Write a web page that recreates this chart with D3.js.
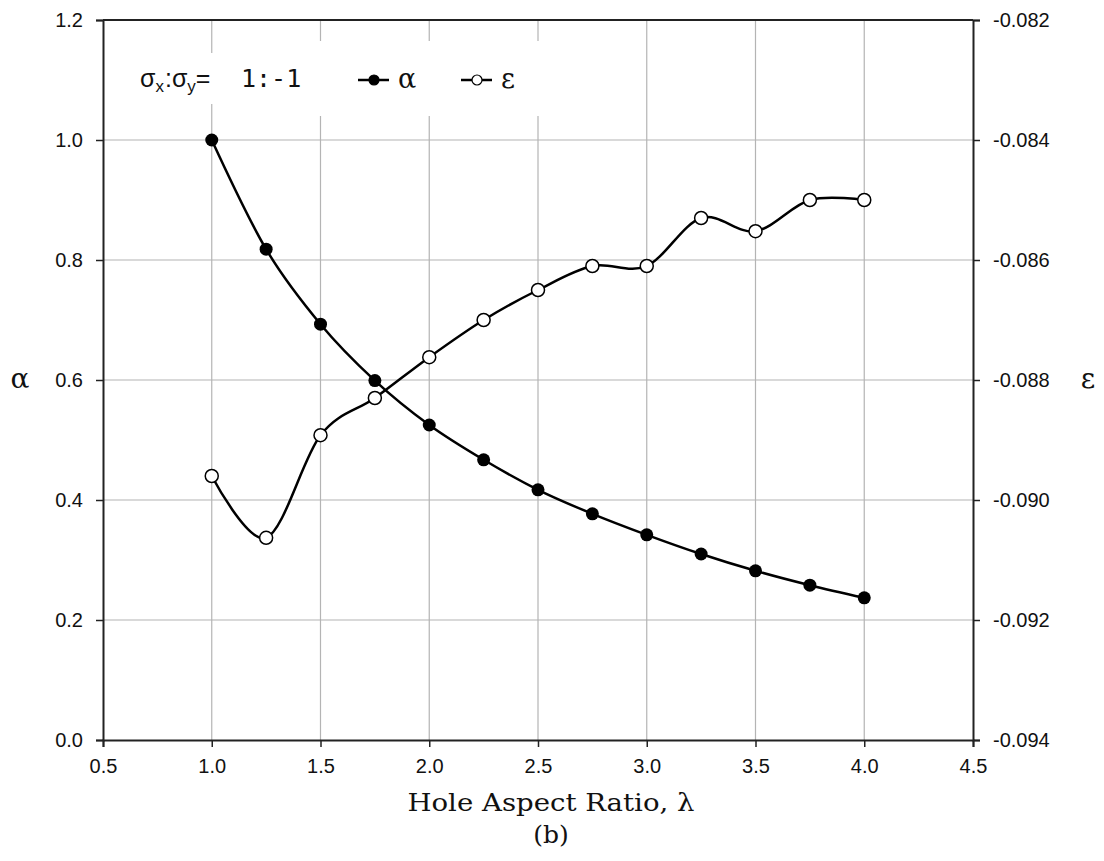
<!DOCTYPE html>
<html>

<head>
  <meta charset="utf-8">
  <title>Hole Aspect Ratio</title>
  <style>
    body { margin: 0; background: #fff; }
    svg { display: block; }
  </style>
</head>

<body>
  <svg></svg>
  <script src="https://d3js.org/d3.v7.min.js"></script>
  <script>
    const lambda = [1.0, 1.25, 1.5, 1.75, 2.0, 2.25, 2.5, 2.75, 3.0, 3.25, 3.5, 3.75, 4.0];
    const alphaValues = [1.0, 0.818, 0.693, 0.599, 0.525, 0.467, 0.417, 0.377, 0.342, 0.310, 0.282, 0.258, 0.237];
    const epsValues = [-0.0896, -0.09063, -0.08892, -0.0883, -0.08762, -0.0870, -0.0865, -0.0861, -0.0861, -0.0853, -0.08552, -0.0850, -0.0850];
    const xTicks = [0.5, 1.0, 1.5, 2.0, 2.5, 3.0, 3.5, 4.0, 4.5];
    const yLeftTicks = [0.0, 0.2, 0.4, 0.6, 0.8, 1.0, 1.2];
    const yRightTicks = [-0.094, -0.092, -0.090, -0.088, -0.086, -0.084, -0.082];

    const width = 1104;
    const height = 861;
    const plotLeft = 103, plotRight = 973, plotTop = 20, plotBottom = 740;

    const x = d3.scaleLinear([0.5, 4.5], [plotLeft, plotRight]);
    const yL = d3.scaleLinear([0, 1.2], [plotBottom, plotTop]);
    const yR = d3.scaleLinear([-0.094, -0.082], [plotBottom, plotTop]);

    const svg = d3.select("svg")
      .attr("width", width)
      .attr("height", height)
      .attr("viewBox", [0, 0, width, height]);

    const sans = "'Liberation Sans', Arial, sans-serif";
    const serif = "'DejaVu Serif', 'Liberation Serif', serif";

    // grid
    svg.append("g")
      .selectAll("line")
      .data(xTicks.slice(1, -1))
      .join("line")
      .attr("x1", d => x(d)).attr("x2", d => x(d))
      .attr("y1", plotTop).attr("y2", plotBottom)
      .attr("stroke", "#b4b4b4").attr("stroke-width", 1.2);
    svg.append("g")
      .selectAll("line")
      .data(yLeftTicks.slice(1, -1))
      .join("line")
      .attr("x1", plotLeft).attr("x2", plotRight)
      .attr("y1", d => yL(d)).attr("y2", d => yL(d))
      .attr("stroke", "#b4b4b4").attr("stroke-width", 1.2);

    // legend backgrounds cut the grid
    svg.append("rect").attr("x", 134).attr("y", 53).attr("width", 170).attr("height", 51).attr("fill", "#fff");
    svg.append("rect").attr("x", 304).attr("y", 41).attr("width", 240).attr("height", 75).attr("fill", "#fff");

    // axes
    const fmt1 = d3.format(".1f");
    const gx = svg.append("g")
      .attr("transform", `translate(0,${plotBottom})`)
      .call(d3.axisBottom(x).tickValues(xTicks).tickFormat(fmt1).tickSize(7).tickPadding(12));
    const gl = svg.append("g")
      .attr("transform", `translate(${plotLeft},0)`)
      .call(d3.axisLeft(yL).tickValues(yLeftTicks).tickFormat(fmt1).tickSize(7).tickPadding(13));
    const gr = svg.append("g")
      .attr("transform", `translate(${plotRight},0)`)
      .call(d3.axisRight(yR).tickValues(yRightTicks).tickFormat(d => d3.format(".3f")(d).replace("−", "-")).tickSize(7).tickPadding(13));
    [gx, gl, gr].forEach(g => {
      g.select(".domain").attr("stroke", "#222").attr("stroke-width", 2);
      g.selectAll(".tick line").attr("stroke", "#222").attr("stroke-width", 1.5);
      g.selectAll(".tick text").attr("font-family", sans).attr("font-size", 20).attr("fill", "#111");
    });
    svg.append("line")
      .attr("x1", plotLeft).attr("x2", plotRight).attr("y1", plotTop).attr("y2", plotTop)
      .attr("stroke", "#222").attr("stroke-width", 2);

    // series
    const curve = d3.curveCatmullRom.alpha(0);
    const alphaData = lambda.map((l, i) => [x(l), yL(alphaValues[i])]);
    const epsData = lambda.map((l, i) => [x(l), yR(epsValues[i])]);
    const line = d3.line().curve(curve);

    svg.append("path").attr("d", line(alphaData))
      .attr("fill", "none").attr("stroke", "#000").attr("stroke-width", 2.5);
    svg.append("path").attr("d", line(epsData))
      .attr("fill", "none").attr("stroke", "#000").attr("stroke-width", 2.5);

    svg.append("g").selectAll("circle").data(alphaData).join("circle")
      .attr("cx", d => d[0]).attr("cy", d => d[1]).attr("r", 6.5)
      .attr("fill", "#000");
    svg.append("g").selectAll("circle").data(epsData).join("circle")
      .attr("cx", d => d[0]).attr("cy", d => d[1]).attr("r", 6.5)
      .attr("fill", "#fff").attr("stroke", "#000").attr("stroke-width", 1.5);

    // legend
    const lt = svg.append("text").attr("x", 140).attr("y", 87)
      .attr("font-family", sans).attr("font-size", 25).attr("fill", "#111");
    lt.append("tspan").text("σ");
    lt.append("tspan").text("x").attr("font-size", 17).attr("dy", 5);
    lt.append("tspan").text(":").attr("dy", -5).attr("dx", 1);
    lt.append("tspan").text("σ");
    lt.append("tspan").text("y").attr("font-size", 17).attr("dy", 5);
    lt.append("tspan").text("=").attr("dy", -5);
    lt.append("tspan").text("1:-1").attr("x", 241)
      .attr("font-family", "'DejaVu Sans Mono', 'Liberation Mono', monospace").attr("font-size", 25);

    const legendItems = [
      { name: "α", x0: 358, fill: "#000" },
      { name: "ε", x0: 461, fill: "#fff" }
    ];
    const lg = svg.append("g").selectAll("g").data(legendItems).join("g");
    lg.append("line")
      .attr("x1", d => d.x0).attr("x2", d => d.x0 + 31)
      .attr("y1", 80).attr("y2", 80)
      .attr("stroke", "#000").attr("stroke-width", 2.5);
    lg.append("circle")
      .attr("cx", d => d.x0 + 16).attr("cy", 80).attr("r", 5)
      .attr("fill", d => d.fill).attr("stroke", "#000").attr("stroke-width", 1.2);
    lg.append("text")
      .attr("x", d => d.x0 + 40).attr("y", 88)
      .attr("font-family", serif).attr("font-size", 27).attr("fill", "#111")
      .text(d => d.name);

    // axis titles
    svg.append("text").attr("x", 551).attr("y", 811).attr("text-anchor", "middle")
      .attr("font-family", serif).attr("font-size", 25).attr("fill", "#111")
      .attr("textLength", 287).attr("lengthAdjust", "spacingAndGlyphs")
      .text("Hole Aspect Ratio, λ");
    svg.append("text").attr("x", 551).attr("y", 843).attr("text-anchor", "middle")
      .attr("font-family", serif).attr("font-size", 25).attr("fill", "#111")
      .text("(b)");
    svg.append("text").attr("x", 20).attr("y", 388).attr("text-anchor", "middle")
      .attr("font-family", serif).attr("font-size", 28).attr("fill", "#111")
      .text("α");
    svg.append("text").attr("x", 1088).attr("y", 388).attr("text-anchor", "middle")
      .attr("font-family", serif).attr("font-size", 28).attr("fill", "#111")
      .text("ε");
  </script>
</body>

</html>
